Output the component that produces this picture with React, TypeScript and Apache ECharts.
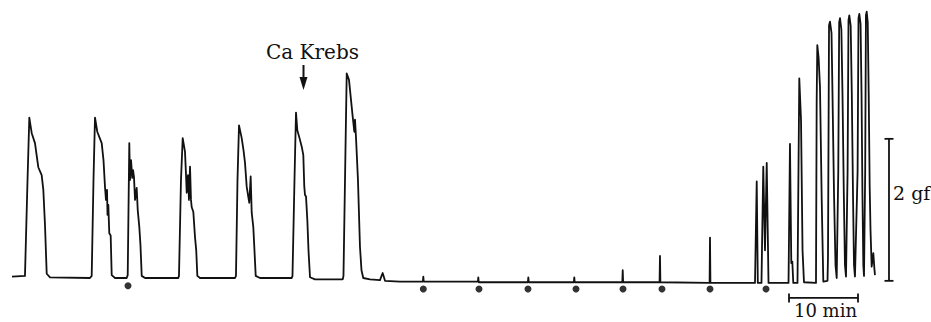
import React, { useEffect, useRef } from "react";
import * as echarts from "echarts";

// Time in minutes, force in gf (grams-force)
const controlTrace: [number, number][] = [
  [0, 0.02], [1.88, 0.03], [2.25, 1.38], [2.51, 2.26], [2.68, 2.15], [2.86, 2.04], [3.33, 1.9], [3.81, 1.56], [4.3, 1.45], [4.54, 1.24], [4.78, 0.75], [5.03, 0.06], [5.51, 0.01], [11.3, 0.0],
  [11.55, 0.03], [11.81, 1.38], [12.03, 2.26], [12.36, 2.06], [13.0, 1.9], [13.26, 1.66], [13.48, 1.28], [13.62, 1.1], [13.77, 1.24], [13.84, 0.89], [13.96, 1.03], [14.1, 0.63], [14.3, 0.6], [14.45, 0.04], [14.93, 0.0], [16.62, 0.0],
  [16.77, 0.04], [17.0, 1.9], [17.1, 1.38], [17.25, 1.66], [17.43, 1.41], [17.54, 1.52], [17.68, 1.42], [17.83, 1.1], [18.07, 1.27], [18.22, 0.96], [18.45, 0.72], [18.62, 0.46], [18.8, 0.03], [19.28, 0.0], [24.1, 0.0],
  [24.2, 0.03], [24.49, 1.38], [24.74, 1.97], [25.07, 1.78], [25.22, 1.45], [25.32, 1.2], [25.51, 1.45], [25.65, 1.1], [25.8, 1.57], [25.94, 1.1], [26.04, 1.0], [26.28, 0.93], [26.52, 0.58], [26.7, 0.39], [26.86, 0.03], [27.25, 0.0], [32.32, 0.0],
  [32.46, 0.03], [32.68, 1.38], [32.9, 2.15], [33.29, 1.97], [33.55, 1.8], [33.77, 1.62], [34.01, 1.29], [34.2, 1.17], [34.39, 1.06], [34.59, 1.43], [34.74, 0.92], [34.97, 0.72], [35.14, 0.39], [35.32, 0.03], [35.94, 0.0], [40.54, 0.0],
  [40.65, 0.03], [40.94, 1.38], [41.16, 2.33], [41.35, 2.08], [41.67, 1.97], [41.99, 1.85], [42.22, 1.73], [42.36, 1.29], [42.46, 1.17], [42.61, 1.15], [42.8, 0.82], [42.97, 0.39], [43.19, 0.01], [43.91, -0.02], [47.93, -0.02],
];

const caKrebsTrace: [number, number][] = [
  [48.04, 0.03], [48.33, 1.8], [48.51, 2.88], [48.84, 2.79], [49.13, 2.51], [49.38, 2.27], [49.61, 2.06], [49.71, 2.23], [49.86, 1.97], [50.14, 1.38], [50.43, 0.44], [50.65, 0.11], [50.91, 0.0], [51.88, -0.02], [53.33, -0.03], [53.72, 0.07], [54.06, -0.04], [56.23, -0.05],
  [59.55, -0.05], [59.61, 0.02], [59.67, -0.05],
  [67.52, -0.05], [67.58, 0.01], [67.64, -0.06],
  [74.77, -0.06], [74.83, 0.01], [74.89, -0.06],
  [81.43, -0.06], [81.49, 0.01], [81.55, -0.06],
  [88.45, -0.06], [88.51, 0.11], [88.57, -0.06],
  [93.85, -0.06], [93.91, 0.31], [93.97, -0.06],
  [101.1, -0.07], [101.16, 0.57], [101.22, -0.07],
  [107.68, -0.07],
];

const recoveryTrace: [number, number][] = [
  [107.75, -0.07], [107.93, 1.36], [108.09, -0.07],
  [108.62, -0.07], [108.88, 1.57], [109.13, 0.39], [109.38, 1.62], [109.64, -0.07],
  [112.54, -0.07], [112.75, 1.89], [112.94, 0.21], [113.09, 0.23], [113.23, -0.07],
  [113.84, -0.07], [114.1, 2.81], [114.35, 2.23], [114.57, 0.39], [114.78, -0.06],
  [116.52, -0.07], [116.62, 2.5], [116.71, 3.28], [116.9, 3.1], [117.1, 2.69], [117.35, 1.1], [117.58, -0.05],
  [118.19, -0.04], [118.26, 0.3], [118.41, 3.56], [118.55, 3.61], [118.77, 3.45], [118.91, 2.6], [119.13, 1.2], [119.35, 0.18], [119.52, 0.0],
  [119.75, 1.5], [119.88, 3.6], [120.0, 3.66], [120.2, 3.5], [120.36, 2.6], [120.55, 1.2], [120.72, 0.18], [120.87, 0.02],
  [121.1, 1.5], [121.23, 3.63], [121.35, 3.7], [121.55, 3.55], [121.71, 2.6], [121.88, 1.2], [122.03, 0.18], [122.17, 0.02],
  [122.55, 1.5], [122.68, 3.66], [122.8, 3.72], [122.98, 3.58], [123.12, 2.6], [123.25, 1.2], [123.38, 0.18], [123.48, 0.03],
  [123.65, 1.5], [123.76, 3.7], [123.87, 3.75], [124.02, 3.6], [124.16, 2.6], [124.3, 1.3], [124.42, 0.68], [124.59, 0.16], [124.83, 0.35], [125.0, 0.11], [125.07, 0.04],
];

// Stimulus / event marks (dots below the trace)
const eventMarks: [number, number][] = [
  [16.81, -0.11], [59.61, -0.155], [67.68, -0.155], [74.78, -0.155], [81.74, -0.155],
  [88.55, -0.155], [94.2, -0.155], [101.16, -0.155], [109.28, -0.155],
];

// Calibration bars
const forceBar: [number, number][] = [[127.1, -0.04], [127.1, 1.96]]; // 2 gf
const timeBar: [number, number][] = [[112.61, -0.28], [122.61, -0.28]]; // 10 min

const FONT = "DejaVu Serif";

export default function App() {
  const ref = useRef<HTMLDivElement>(null);
  useEffect(() => {
    if (!ref.current) return;
    const chart = echarts.init(ref.current, undefined, { renderer: "svg" });
    const trace = [...controlTrace, ...caKrebsTrace, ...recoveryTrace];
    chart.setOption({
      animation: false,
      backgroundColor: "#ffffff",
      grid: { left: 12, right: 8.2, top: 1.1, bottom: 1.4 },
      xAxis: { type: "value", min: 0, max: 132, show: false },
      yAxis: { type: "value", min: -0.6, max: 3.9, show: false },
      series: [
        {
          type: "line",
          data: trace,
          showSymbol: false,
          lineStyle: { color: "#111", width: 1.8, join: "round" },
          clip: false,
        },
        {
          type: "scatter",
          data: eventMarks,
          symbolSize: 7,
          itemStyle: { color: "#000" },
        },
        {
          type: "line",
          data: forceBar,
          symbol: "rect",
          symbolSize: [9, 1.8],
          showSymbol: true,
          itemStyle: { color: "#111" },
          lineStyle: { color: "#111", width: 1.8 },
          clip: false,
        },
        {
          type: "line",
          data: timeBar,
          symbol: "rect",
          symbolSize: [1.8, 9],
          showSymbol: true,
          itemStyle: { color: "#111" },
          lineStyle: { color: "#111", width: 1.8 },
          clip: false,
        },
      ],
      graphic: [
        {
          type: "text",
          x: 312.5,
          y: 52,
          style: { text: "Ca Krebs", font: `20px "${FONT}"`, fill: "#111", align: "center", verticalAlign: "middle" },
        },
        {
          type: "line",
          shape: { x1: 303.5, y1: 65, x2: 303.5, y2: 80 },
          style: { stroke: "#111", lineWidth: 2 },
        },
        {
          type: "polygon",
          shape: { points: [[299.5, 77], [307.5, 77], [303.5, 90]] },
          style: { fill: "#111" },
        },
        {
          type: "text",
          x: 893,
          y: 193,
          style: { text: "2 gf", font: `19px "${FONT}"`, fill: "#111", align: "left", verticalAlign: "middle" },
        },
        {
          type: "text",
          x: 825.5,
          y: 310.5,
          style: { text: "10 min", font: `18px "${FONT}"`, fill: "#111", align: "center", verticalAlign: "middle" },
        },
      ],
    });
    return () => chart.dispose();
  }, []);
  return (
    <div
      ref={ref}
      style={{ position: "fixed", left: 0, top: 0, width: 931, height: 322, background: "#fff" }}
    />
  );
}
